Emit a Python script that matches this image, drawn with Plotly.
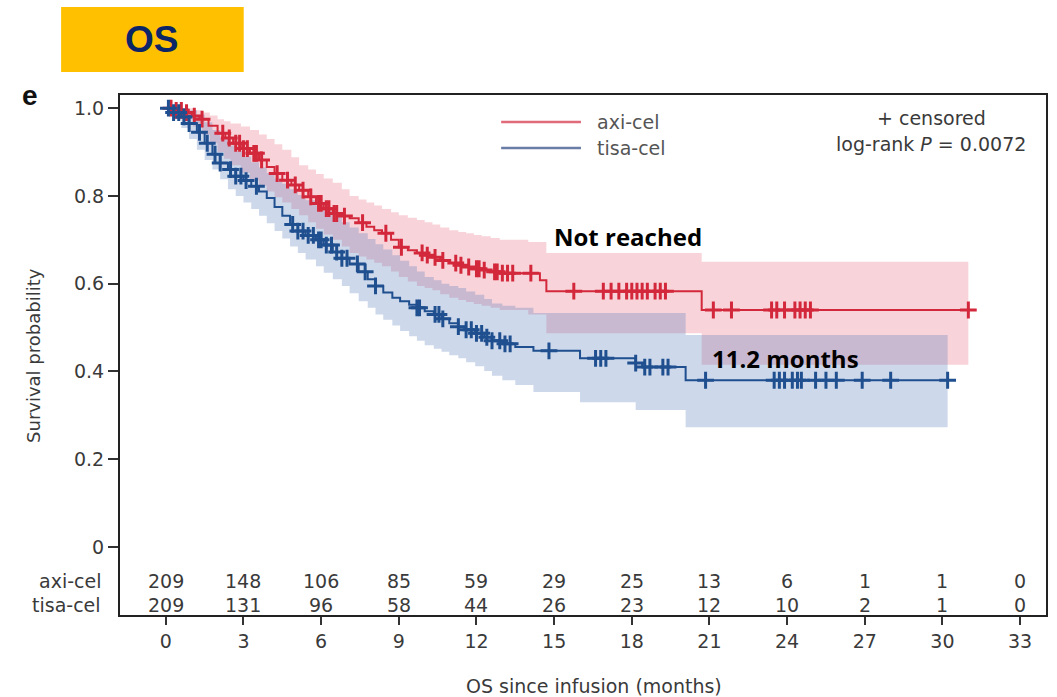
import numpy as np
import plotly.graph_objects as go

# ---------------- data ----------------
ticks_x = [0, 3, 6, 9, 12, 15, 18, 21, 24, 27, 30, 33]
risk_axi = [209, 148, 106, 85, 59, 29, 25, 13, 6, 1, 1, 0]
risk_tisa = [209, 131, 96, 58, 44, 26, 23, 12, 10, 2, 1, 0]

# axi-cel KM steps
axi_t = [0, 0.35, 0.7, 1.0, 1.3, 1.65, 2.0, 2.3, 2.6, 2.95, 3.25, 3.6, 3.9, 4.2, 4.5, 4.85,
         5.15, 5.5, 5.8, 6.1, 6.45, 6.8, 7.1, 7.45, 7.75, 8.05, 8.35, 8.7, 9.0, 9.35, 9.7,
         10.0, 10.3, 10.6, 10.95, 11.3, 11.6, 11.9, 12.2, 12.55, 12.9, 14.45, 14.7, 20.7]
axi_s = [1.0, 0.995, 0.99, 0.982, 0.975, 0.96, 0.943, 0.932, 0.92, 0.908, 0.897, 0.882,
         0.866, 0.851, 0.836, 0.825, 0.813, 0.798, 0.783, 0.771, 0.76, 0.754, 0.749, 0.739,
         0.73, 0.722, 0.715, 0.70, 0.683, 0.676, 0.67, 0.665, 0.66, 0.653, 0.647, 0.642,
         0.638, 0.634, 0.631, 0.627, 0.624, 0.608, 0.583, 0.54]
axi_end = 31.0

axi_ci_t = [0, 0.35, 0.7, 1.05, 1.4, 1.7, 2.0, 2.25, 2.5, 2.9, 3.25, 3.6, 3.9, 4.2, 4.5, 4.85,
            5.15, 5.5, 5.8, 6.1, 6.45, 6.8, 7.1, 7.45, 7.75, 8.05, 8.35, 8.7, 9.0, 9.35, 9.7,
            10.0, 10.3, 10.6, 10.95, 11.3, 11.6, 11.9, 12.2, 12.55, 12.9, 14.0, 14.7, 20.7]
axi_lo = [1.0, 0.99, 0.975, 0.958, 0.94, 0.92, 0.90, 0.885, 0.87, 0.853, 0.836, 0.823,
          0.81, 0.797, 0.785, 0.77, 0.756, 0.74, 0.725, 0.712, 0.70, 0.685, 0.67, 0.662,
          0.655, 0.648, 0.64, 0.628, 0.615, 0.605, 0.595, 0.59, 0.585, 0.576, 0.568, 0.563,
          0.558, 0.554, 0.55, 0.545, 0.54, 0.53, 0.487, 0.415]
axi_hi = [1.0, 1.0, 1.0, 0.995, 0.99, 0.983, 0.975, 0.97, 0.965, 0.958, 0.95, 0.94, 0.93,
          0.918, 0.905, 0.888, 0.87, 0.86, 0.85, 0.84, 0.83, 0.815, 0.80, 0.792, 0.785,
          0.778, 0.77, 0.763, 0.756, 0.75, 0.745, 0.74, 0.735, 0.728, 0.722, 0.718, 0.715,
          0.711, 0.708, 0.704, 0.70, 0.695, 0.67, 0.65]

axi_cens = [0.2, 0.4, 0.6, 0.8, 1.1, 1.4, 2.2, 2.45, 2.7, 2.85, 3.0, 3.15, 3.4, 3.5, 3.7,
            4.3, 4.7, 5.0, 5.3, 5.6, 5.9, 6.0, 6.2, 6.3, 6.5, 6.6, 6.9, 7.6, 8.5, 9.1, 9.9,
            10.1, 10.4, 10.7, 11.2, 11.4, 11.7, 12.0, 12.1, 12.3, 12.7, 12.8, 13.0, 13.2,
            13.4, 14.1, 15.76, 16.9, 17.2, 17.5, 17.8, 18.0, 18.2, 18.4, 18.6, 18.9, 19.1,
            19.3, 21.15, 21.85, 23.4, 23.6, 23.9, 24.3, 24.5, 24.7, 24.9, 31.0]

# tisa-cel KM steps
tisa_t = [0, 0.3, 0.6, 0.9, 1.2, 1.5, 1.8, 2.1, 2.4, 2.7, 3.0, 3.3, 3.6, 3.9, 4.2, 4.5, 4.8,
          5.1, 5.4, 5.8, 6.1, 6.45, 6.8, 7.1, 7.45, 7.8, 8.1, 8.4, 8.75, 9.05, 9.4, 9.7,
          10.0, 10.35, 10.65, 10.95, 11.3, 11.6, 11.95, 12.3, 12.6, 13.0, 13.5, 14.2, 16.0,
          18.15, 18.4, 20.08]
tisa_s = [1.0, 0.99, 0.98, 0.965, 0.945, 0.92, 0.895, 0.875, 0.86, 0.845, 0.835, 0.822,
          0.81, 0.795, 0.775, 0.755, 0.735, 0.72, 0.71, 0.70, 0.688, 0.672, 0.658, 0.645,
          0.627, 0.61, 0.595, 0.58, 0.568, 0.56, 0.552, 0.545, 0.537, 0.53, 0.52, 0.51,
          0.502, 0.495, 0.487, 0.478, 0.47, 0.463, 0.456, 0.447, 0.43, 0.419, 0.41, 0.38]
tisa_end = 30.2

tisa_ci_t = [0, 0.3, 0.6, 0.9, 1.2, 1.5, 1.8, 2.1, 2.4, 2.7, 3.0, 3.3, 3.6, 3.9, 4.2, 4.5,
             4.8, 5.1, 5.4, 5.8, 6.1, 6.45, 6.8, 7.1, 7.45, 7.8, 8.1, 8.4, 8.75, 9.05, 9.4,
             9.7, 10.0, 10.35, 10.65, 10.95, 11.3, 11.6, 11.95, 12.3, 12.6, 13.0, 13.5, 14.2,
             16.0, 18.15, 18.4, 20.08]
tisa_lo = [1.0, 0.975, 0.955, 0.93, 0.905, 0.882, 0.86, 0.838, 0.815, 0.8, 0.785, 0.77,
           0.755, 0.738, 0.72, 0.703, 0.685, 0.67, 0.655, 0.64, 0.625, 0.61, 0.595, 0.578,
           0.56, 0.545, 0.53, 0.518, 0.505, 0.492, 0.48, 0.47, 0.46, 0.452, 0.445, 0.437,
           0.43, 0.421, 0.412, 0.401, 0.39, 0.38, 0.369, 0.353, 0.33, 0.312, 0.312, 0.273]
tisa_hi = [1.0, 1.0, 1.0, 0.995, 0.985, 0.968, 0.95, 0.932, 0.915, 0.902, 0.89, 0.877,
           0.865, 0.852, 0.84, 0.828, 0.815, 0.802, 0.79, 0.778, 0.765, 0.752, 0.74, 0.728,
           0.715, 0.702, 0.69, 0.678, 0.665, 0.652, 0.64, 0.628, 0.615, 0.608, 0.60, 0.595,
           0.59, 0.582, 0.575, 0.565, 0.555, 0.55, 0.545, 0.533, 0.533, 0.533, 0.533, 0.483]

tisa_cens = [0.1, 0.3, 0.5, 0.7, 0.9, 1.3, 1.6, 1.9, 2.1, 2.5, 2.7, 2.9, 3.1, 3.5, 4.9, 5.1,
             5.3, 5.5, 5.7, 5.9, 6.0, 6.2, 6.4, 6.6, 6.8, 7.0, 7.4, 7.7, 8.1, 9.7, 9.8, 10.4,
             10.55, 10.7, 11.3, 11.6, 11.8, 12.0, 12.2, 12.4, 12.6, 12.9, 13.1, 13.3, 14.8,
             16.6, 16.8, 17.0, 18.15, 18.5, 18.7, 19.2, 19.4, 20.85, 23.5, 23.7, 23.9, 24.2,
             24.4, 24.55, 25.1, 25.5, 25.9, 26.9, 28.0, 30.2]

RED = "#D3283B"
BLUE = "#1F4F8F"
RED_BAND = "rgba(222,60,85,0.22)"
BLUE_BAND = "rgba(70,110,180,0.27)"
FONT = "DejaVu Sans, Verdana, sans-serif"
TXT = "#3a3a3a"
FS = 19


def ext(t, v, end):
    return list(t) + [end], list(v) + [v[-1]]


def at(t, v, q):
    idx = np.searchsorted(np.array(t), np.array(q), side="right") - 1
    return list(np.array(v)[idx])


fig = go.Figure()

for t, lo, hi, end, col in [(axi_ci_t, axi_lo, axi_hi, axi_end, RED_BAND),
                            (tisa_ci_t, tisa_lo, tisa_hi, tisa_end, BLUE_BAND)]:
    x1, yh = ext(t, hi, end)
    _, yl = ext(t, lo, end)
    fig.add_trace(go.Scatter(x=x1, y=yh, mode="lines", line=dict(width=0, shape="hv"),
                             hoverinfo="skip", showlegend=False))
    fig.add_trace(go.Scatter(x=x1, y=yl, mode="lines", line=dict(width=0, shape="hv"),
                             fill="tonexty", fillcolor=col, hoverinfo="skip",
                             showlegend=False))

for t, s, end, cens, col, name in [(axi_t, axi_s, axi_end, axi_cens, RED, "axi-cel"),
                                   (tisa_t, tisa_s, tisa_end, tisa_cens, BLUE, "tisa-cel")]:
    xs, ys = ext(t, s, end)
    fig.add_trace(go.Scatter(x=xs, y=ys, mode="lines", line=dict(color=col, width=2, shape="hv"),
                             name=name, showlegend=False))
    fig.add_trace(go.Scatter(x=cens, y=at(t, s, cens), mode="markers",
                             marker=dict(symbol="cross-thin", size=12,
                                         line=dict(color=col, width=3)),
                             showlegend=False, hoverinfo="skip"))


def txt(x, y, text, xref="paper", yref="paper", size=FS, color=TXT, family=FONT,
        xanchor="center", **kw):
    return dict(x=x, y=y, xref=xref, yref=yref, text=text, showarrow=False,
                xanchor=xanchor, yanchor="middle",
                font=dict(size=size, color=color, family=family), **kw)


ann = []
for xv, a, b in zip(ticks_x, risk_axi, risk_tisa):
    ann.append(txt(xv, -0.077, str(a), "x", "y"))
    ann.append(txt(xv, -0.132, str(b), "x", "y"))
for lab, yv in [("axi-cel", -0.077), ("tisa-cel", -0.132)]:
    ann.append(txt(-0.018, yv, lab, "paper", "y", xanchor="right"))

ann += [
    txt(-0.094, 0.50, "Survival probability", size=18, textangle=-90),
    txt(0.512, -0.137, "OS since infusion (months)"),
    txt(0.0345, 1.106, "<b>OS</b>", size=37, color="#0B2566",
        family="Liberation Sans, Arial, sans-serif"),
    txt(-0.097, 1.0, "<b>e</b>", size=28, color="#111",
        family="Liberation Sans, Arial, sans-serif"),
    txt(0.513, 0.948, "axi-cel", xanchor="left", color="#555"),
    txt(0.513, 0.898, "tisa-cel", xanchor="left", color="#555"),
    txt(0.876, 0.955, "+ censored"),
    txt(0.876, 0.906, "log-rank <i>P</i> = 0.0072"),
    txt(17.84, 0.708, "<b>Not reached</b>", "x", "y", size=24, color="#000",
        family="Open Sans, sans-serif"),
    txt(23.93, 0.43, "<b>11.2 months</b>", "x", "y", size=24, color="#000",
        family="Open Sans, sans-serif"),
]

shapes = [
    dict(type="rect", xref="paper", yref="paper", x0=-0.0636, x1=0.1336, y0=1.044, y1=1.169,
         fillcolor="#FFC000", line=dict(width=0), layer="below"),
    dict(type="line", xref="paper", yref="paper", x0=0.4116, x1=0.4978, y0=0.948, y1=0.948,
         line=dict(color="#E06A7A", width=2.5)),
    dict(type="line", xref="paper", yref="paper", x0=0.4116, x1=0.4978, y0=0.898, y1=0.898,
         line=dict(color="#6A7DA6", width=2.5)),
]

fig.update_layout(
    width=1057, height=697,
    margin=dict(l=120, r=9, t=95, b=82),
    paper_bgcolor="white", plot_bgcolor="white",
    annotations=ann, shapes=shapes,
    showlegend=False,
    xaxis=dict(range=[-1.77, 34.0], tickvals=ticks_x, ticks="outside", ticklen=8,
               tickwidth=2, tickcolor="#333", showline=True, linecolor="#222", linewidth=2,
               mirror=True, showgrid=False, zeroline=False,
               tickfont=dict(size=FS, color=TXT, family=FONT)),
    yaxis=dict(range=[-0.155, 1.03], tickvals=[0, 0.2, 0.4, 0.6, 0.8, 1.0],
               ticktext=["0", "0.2", "0.4", "0.6", "0.8", "1.0"], ticks="outside", ticklen=10,
               tickwidth=2, tickcolor="#333", showline=True, linecolor="#222", linewidth=2,
               mirror=True, showgrid=False, zeroline=False,
               tickfont=dict(size=FS, color=TXT, family=FONT)),
)

fig.write_html("out.html")
